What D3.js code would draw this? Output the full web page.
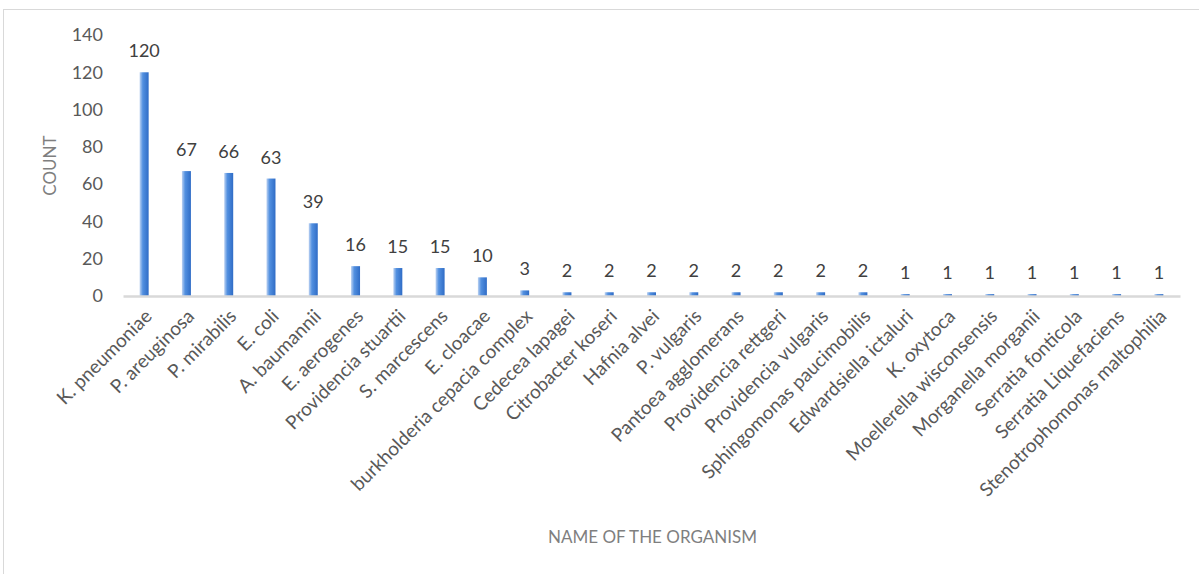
<!DOCTYPE html>
<html>
<head>
<meta charset="utf-8">
<script src="https://cdn.jsdelivr.net/npm/d3@7"></script>
<style>
  body { margin: 0; background: #fff; }
  text { font-family: Lato, "Open Sans", sans-serif; }
</style>
</head>
<body>
<svg></svg>
<script>
// data
var organisms = ['K. pneumoniae', 'P. areuginosa', 'P. mirabilis', 'E. coli', 'A. baumannii',
  'E. aerogenes', 'Providencia stuartii', 'S. marcescens', 'E. cloacae', 'burkholderia cepacia complex',
  'Cedecea lapagei', 'Citrobacter koseri', 'Hafnia alvei', 'P. vulgaris', 'Pantoea agglomerans',
  'Providencia rettgeri', 'Providencia vulgaris', 'Sphingomonas paucimobilis', 'Edwardsiella ictaluri',
  'K. oxytoca', 'Moellerella wisconsensis', 'Morganella morganii', 'Serratia fonticola',
  'Serratia Liquefaciens', 'Stenotrophomonas maltophilia']
var counts = [120, 67, 66, 63, 39, 16, 15, 15, 10, 3, 2, 2, 2, 2, 2, 2, 2, 2, 1, 1, 1, 1, 1, 1, 1]
var yTicks = [0, 20, 40, 60, 80, 100, 120, 140]

var svgWidth = 1199, svgHeight = 574
var plotLeft = 123, plotRight = 1180, plotTop = 35, plotBottom = 296

var svg = d3.select('svg')
    .attr('width', svgWidth)
    .attr('height', svgHeight)

// chart frame
svg.append('rect')
    .attr('x', 3.5).attr('y', 9.5)
    .attr('width', 1220).attr('height', 600)
    .attr('fill', 'none')
    .attr('stroke', '#d9d9d9')

// bar gradient, light edge on the left
var grad = svg.append('defs').append('linearGradient')
    .attr('id', 'barGrad')
    .attr('x1', '0%').attr('x2', '100%').attr('y1', '0%').attr('y2', '0%')
grad.append('stop').attr('offset', '0%').attr('stop-color', '#bcd2f2')
grad.append('stop').attr('offset', '35%').attr('stop-color', '#5290e0')
grad.append('stop').attr('offset', '100%').attr('stop-color', '#2f6cc6')

var x = d3.scaleBand()
    .domain(organisms)
    .range([plotLeft, plotRight])

var y = d3.scaleLinear()
    .domain([0, 140])
    .range([plotBottom, plotTop])

var barW = 9

// bars
svg.selectAll('rect.bar')
    .data(counts)
    .enter()
    .append('rect')
    .attr('class', 'bar')
    .attr('x', function(d, i) { return x(organisms[i]) + x.bandwidth() / 2 - barW / 2 })
    .attr('y', function(d) { return y(d) })
    .attr('width', barW)
    .attr('height', function(d) { return plotBottom - y(d) })
    .attr('fill', 'url(#barGrad)')

// value labels
svg.selectAll('text.val')
    .data(counts)
    .enter()
    .append('text')
    .attr('class', 'val')
    .attr('x', function(d, i) { return x(organisms[i]) + x.bandwidth() / 2 })
    .attr('y', function(d) { return y(d) - 15 })
    .attr('text-anchor', 'middle')
    .style('font-size', '18px')
    .style('fill', '#404040')
    .text(function(d) { return d })

// y axis labels (no line, no ticks)
var yAxis = svg.append('g')
    .attr('transform', 'translate(' + (plotLeft - 20) + ',0)')
    .call(d3.axisLeft(y).tickValues(yTicks).tickSize(0).tickPadding(0))
yAxis.select('.domain').remove()
yAxis.selectAll('text')
    .style('font-size', '18px')
    .style('fill', '#595959')
    .style('font-family', 'Lato, "Open Sans", sans-serif')

// x axis
var xAxis = svg.append('g')
    .attr('transform', 'translate(0,' + plotBottom + ')')
    .call(d3.axisBottom(x).tickSize(0).tickPadding(0))
xAxis.select('.domain')
    .attr('stroke', '#d9d9d9')
    .attr('stroke-width', 2.5)
xAxis.selectAll('text')
    .attr('text-anchor', 'end')
    .attr('dx', '6')
    .attr('dy', '0.35em')
    .attr('y', 0)
    .attr('transform', 'translate(0,21) rotate(-45)')
    .style('font-size', '19px')
    .style('fill', '#595959')
    .style('font-family', 'Lato, "Open Sans", sans-serif')

// axis titles
svg.append('text')
    .attr('x', (plotLeft + plotRight) / 2 + 1)
    .attr('y', 543)
    .attr('text-anchor', 'middle')
    .style('font-size', '17px')
    .style('fill', '#7f7f7f')
    .text('NAME OF THE ORGANISM')

svg.append('text')
    .attr('transform', 'translate(56,' + (plotTop + plotBottom) / 2 + ') rotate(-90)')
    .attr('text-anchor', 'middle')
    .style('font-size', '17px')
    .style('fill', '#7f7f7f')
    .text('COUNT')
</script>
</body>
</html>
